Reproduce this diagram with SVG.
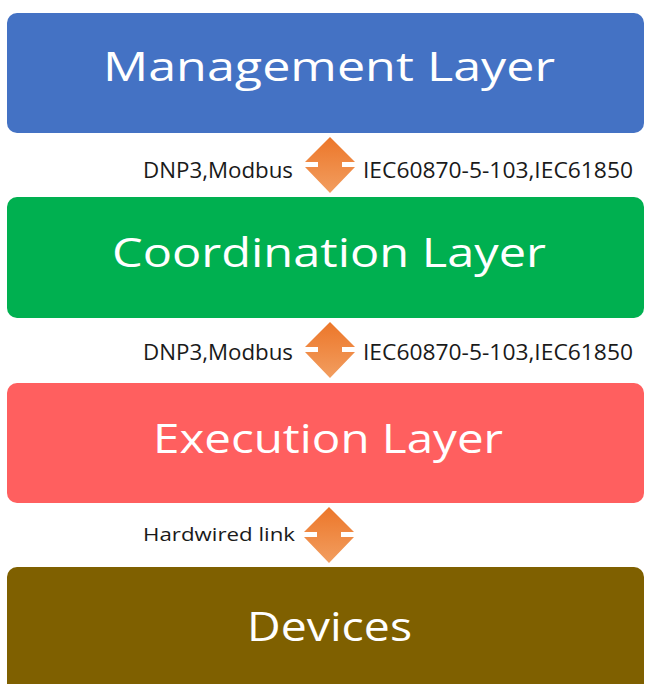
<svg xmlns="http://www.w3.org/2000/svg" width="645" height="684" viewBox="0 0 645 684">
  <defs>
    <linearGradient id="arrowFill" x1="0" y1="0" x2="0" y2="1">
      <stop offset="0" stop-color="#EC7629"/>
      <stop offset="1" stop-color="#F29E60"/>
    </linearGradient>
    <!-- double-headed notched arrow, centred on (0,0), 50 wide x 56 tall -->
    <path id="dblArrow" d="M0,-28 L25,-3 L12,-3 L12,2 L25,2 L0,28 L-25,2 L-12,2 L-12,-3 L-25,-3 Z"/>
  </defs>
  <style>
    .layer-title { font-family: "Open Sans", "Noto Sans", "Liberation Sans", sans-serif; font-size: 41px; fill: #FFFFFF; text-anchor: middle; }
    .proto { font-family: "Open Sans", "Noto Sans", "Liberation Sans", sans-serif; font-size: 21px; fill: #1A1A1A; }
    .proto-small { font-family: "Open Sans", "Noto Sans", "Liberation Sans", sans-serif; font-size: 19px; fill: #1A1A1A; }
    .arrow { fill: url(#arrowFill); }
  </style>

  <rect width="645" height="684" fill="#FFFFFF"/>

  <g id="management-layer">
    <rect x="7" y="13" width="637" height="120" rx="10" fill="#4472C4"/>
    <text class="layer-title" x="329" y="81" textLength="452" lengthAdjust="spacingAndGlyphs">Management Layer</text>
  </g>

  <g id="coordination-layer">
    <rect x="7" y="197" width="637" height="121" rx="10" fill="#00B050"/>
    <text class="layer-title" x="329" y="267" textLength="434" lengthAdjust="spacingAndGlyphs">Coordination Layer</text>
  </g>

  <g id="execution-layer">
    <rect x="7" y="383" width="637" height="120" rx="10" fill="#FF5F5F"/>
    <text class="layer-title" x="328" y="453" textLength="350" lengthAdjust="spacingAndGlyphs">Execution Layer</text>
  </g>

  <g id="devices">
    <rect x="7" y="567" width="637" height="130" rx="10" fill="#7F6000"/>
    <text class="layer-title" x="329.5" y="641" textLength="165" lengthAdjust="spacingAndGlyphs">Devices</text>
  </g>

  <g id="connectors">
    <g id="link-management-coordination">
      <use href="#dblArrow" class="arrow" transform="translate(330,165)"/>
      <text class="proto" x="143" y="178" textLength="150" lengthAdjust="spacingAndGlyphs">DNP3,Modbus</text>
      <text class="proto" x="363" y="178" textLength="270" lengthAdjust="spacingAndGlyphs">IEC60870-5-103,IEC61850</text>
    </g>
    <g id="link-coordination-execution">
      <use href="#dblArrow" class="arrow" transform="translate(330,350)"/>
      <text class="proto" x="143" y="360" textLength="150" lengthAdjust="spacingAndGlyphs">DNP3,Modbus</text>
      <text class="proto" x="363" y="360" textLength="270" lengthAdjust="spacingAndGlyphs">IEC60870-5-103,IEC61850</text>
    </g>
    <g id="link-execution-devices">
      <use href="#dblArrow" class="arrow" transform="translate(329,535)"/>
      <text class="proto-small" x="143" y="541" textLength="152" lengthAdjust="spacingAndGlyphs">Hardwired link</text>
    </g>
  </g>
</svg>
